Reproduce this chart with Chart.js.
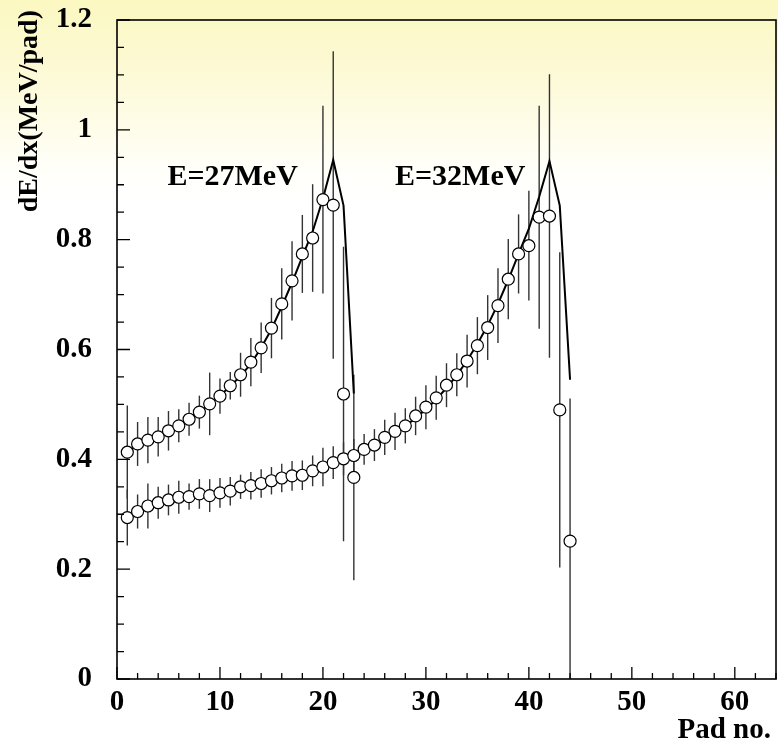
<!DOCTYPE html>
<html>
<head>
<meta charset="utf-8">
<script src="https://cdn.jsdelivr.net/npm/chart.js@4.4.0/dist/chart.umd.min.js"></script>
<style>
  html, body { margin: 0; padding: 0; }
  body {
    width: 778px; height: 746px; overflow: hidden;
    background: linear-gradient(to bottom, #fbf8c2 0px, #fcf9d2 60px, #fefce6 120px, #fffffa 170px, #ffffff 200px);
  }
  #wrap { width: 778px; height: 746px; }
</style>
</head>
<body>
<div id="wrap"><canvas id="chart" width="778" height="746"></canvas></div>
<script>
// pad numbers
const pads27 = [1,2,3,4,5,6,7,8,9,10,11,12,13,14,15,16,17,18,19,20,21,22,23];
const pads32 = [1,2,3,4,5,6,7,8,9,10,11,12,13,14,15,16,17,18,19,20,21,22,
                23,24,25,26,27,28,29,30,31,32,33,34,35,36,37,38,39,40,41,42,43,44];

// measured dE/dx (MeV/pad) and errors, E=27MeV
const dedx27 = [0.413,0.428,0.435,0.441,0.452,0.461,0.473,0.486,0.501,0.515,0.534,0.554,
                0.577,0.603,0.639,0.683,0.725,0.774,0.803,0.873,0.863,0.519,0.367];
const err27  = [0.085,0.040,0.042,0.036,0.036,0.030,0.030,0.030,0.057,0.032,0.025,0.040,
                0.044,0.046,0.055,0.065,0.072,0.071,0.098,0.171,0.280,0.268,0.187];
// calculated curve, E=27MeV
const fit27  = [0.415,0.424,0.433,0.442,0.452,0.462,0.474,0.487,0.500,0.516,0.533,0.552,
                0.574,0.603,0.637,0.678,0.722,0.769,0.815,0.875,0.945,0.862,0.520];

// measured dE/dx and errors, E=32MeV
const dedx32 = [0.294,0.305,0.315,0.321,0.326,0.331,0.332,0.337,0.334,0.339,0.342,0.350,
                0.352,0.356,0.361,0.366,0.370,0.371,0.379,0.386,0.394,0.401,0.407,0.418,
                0.426,0.440,0.451,0.461,0.479,0.495,0.512,0.535,0.554,0.579,0.607,0.640,
                0.680,0.728,0.774,0.789,0.841,0.843,0.490,0.251];
const err32  = [0.051,0.031,0.041,0.029,0.028,0.030,0.024,0.027,0.030,0.027,0.026,0.022,
                0.025,0.026,0.025,0.026,0.027,0.027,0.028,0.035,0.030,0.030,0.030,0.028,
                0.029,0.032,0.034,0.032,0.035,0.040,0.040,0.040,0.039,0.048,0.052,0.059,
                0.068,0.073,0.072,0.100,0.203,0.258,0.287,0.260];
// calculated curve, E=32MeV
const fit32  = [0.298,0.306,0.312,0.317,0.321,0.325,0.329,0.332,0.335,0.339,0.343,0.347,
                0.351,0.355,0.360,0.365,0.370,0.375,0.381,0.387,0.393,0.400,0.408,0.416,
                0.425,0.436,0.448,0.461,0.475,0.491,0.509,0.530,0.553,0.580,0.610,0.644,
                0.683,0.727,0.774,0.820,0.878,0.943,0.862,0.545];

// axes
const xTicks = [0,10,20,30,40,50,60];
const xTickLabels = ['0','10','20','30','40','50','60'];
const yTicks = [0,0.2,0.4,0.6,0.8,1.0,1.2];
const yTickLabels = ['0','0.2','0.4','0.6','0.8','1','1.2'];

const serif = '"Liberation Serif", "Times New Roman", Times, serif';

function toPoints(xs, ys) {
    return xs.map((x, i) => ({ x: x, y: ys[i] }));
}

// keep the plot box where the layout padding puts it
function noLabelPadding(scale) {
    scale.paddingLeft = 0;
    scale.paddingRight = 0;
    scale.paddingTop = 0;
    scale.paddingBottom = 0;
}

// vertical error bars under the markers
const errorBars = {
    id: 'errorBars',
    beforeDatasetsDraw(chart) {
        const { ctx, chartArea: a, scales: { x, y } } = chart;
        ctx.save();
        ctx.beginPath();
        ctx.rect(a.left, a.top, a.right - a.left, a.bottom - a.top);
        ctx.clip();
        ctx.strokeStyle = '#333333';
        ctx.lineWidth = 1.4;
        [[pads27, dedx27, err27], [pads32, dedx32, err32]].forEach(([pads, vals, errs]) => {
            pads.forEach((p, i) => {
                const px = x.getPixelForValue(p);
                ctx.beginPath();
                ctx.moveTo(px, y.getPixelForValue(vals[i] + errs[i]));
                ctx.lineTo(px, y.getPixelForValue(vals[i] - errs[i]));
                ctx.stroke();
            });
        });
        ctx.restore();
    }
};

// box frame, inward ticks, titles and energy labels
const frameAndText = {
    id: 'frameAndText',
    afterDraw(chart) {
        const { ctx, chartArea: a, scales: { x, y } } = chart;
        ctx.save();
        ctx.strokeStyle = '#000';
        ctx.lineWidth = 1.6;
        ctx.strokeRect(a.left, a.top, a.right - a.left, a.bottom - a.top);

        ctx.lineWidth = 1.3;
        ctx.beginPath();
        for (let v = 0; v <= 64; v += 2) {
            const px = x.getPixelForValue(v);
            const len = v % 10 === 0 ? 12 : 6;
            ctx.moveTo(px, a.bottom);
            ctx.lineTo(px, a.bottom - len);
        }
        for (let k = 0; k <= 24; k++) {
            const py = y.getPixelForValue(k * 0.05);
            const len = k % 4 === 0 ? 13 : 7;
            ctx.moveTo(a.left, py);
            ctx.lineTo(a.left + len, py);
        }
        ctx.stroke();

        ctx.fillStyle = '#000';
        ctx.font = 'bold 30px ' + serif;
        ctx.textBaseline = 'alphabetic';
        ctx.textAlign = 'left';
        ctx.fillText('E=27MeV', x.getPixelForValue(4.9), y.getPixelForValue(0.90));
        ctx.fillText('E=32MeV', x.getPixelForValue(27.0), y.getPixelForValue(0.90));

        ctx.font = 'bold 29px ' + serif;
        ctx.textAlign = 'right';
        ctx.fillText('Pad no.', 771, 738);

        ctx.font = 'bold 28px ' + serif;
        ctx.translate(30, 10);
        ctx.rotate(-Math.PI / 2);
        ctx.textAlign = 'right';
        ctx.textBaseline = 'middle';
        ctx.fillText('dE/dx(MeV/pad)', 0, 0);
        ctx.restore();
    }
};

const ctx = document.getElementById('chart');

new Chart(ctx, {
    type: 'scatter',
    data: {
        datasets: [
            {
                label: 'E=27MeV data',
                data: toPoints(pads27, dedx27),
                pointStyle: 'circle',
                pointRadius: 6,
                pointBorderWidth: 1.2,
                pointBackgroundColor: '#ffffff',
                pointBorderColor: '#000000',
                showLine: false
            },
            {
                label: 'E=32MeV data',
                data: toPoints(pads32, dedx32),
                pointStyle: 'circle',
                pointRadius: 6,
                pointBorderWidth: 1.2,
                pointBackgroundColor: '#ffffff',
                pointBorderColor: '#000000',
                showLine: false
            },
            {
                type: 'line',
                label: 'E=27MeV calc',
                data: toPoints(pads27, fit27),
                borderColor: '#000000',
                borderWidth: 2,
                pointRadius: 0,
                tension: 0,
                fill: false
            },
            {
                type: 'line',
                label: 'E=32MeV calc',
                data: toPoints(pads32, fit32),
                borderColor: '#000000',
                borderWidth: 2,
                pointRadius: 0,
                tension: 0,
                fill: false
            }
        ]
    },
    options: {
        responsive: false,
        animation: false,
        devicePixelRatio: 1,
        layout: { autoPadding: false, padding: { top: 20, right: 2, left: 0, bottom: 0 } },
        plugins: {
            legend: { display: false },
            tooltip: { enabled: false }
        },
        scales: {
            x: {
                type: 'linear',
                min: 0,
                max: 64,
                grid: { display: false },
                border: { display: false },
                afterFit(scale) {
                    scale.height = 67;
                    noLabelPadding(scale);
                },
                afterBuildTicks(scale) { scale.ticks = xTicks.map(v => ({ value: v })); },
                ticks: {
                    autoSkip: false,
                    maxRotation: 0,
                    padding: 1,
                    color: '#000',
                    font: { family: serif, weight: 'bold', size: 29, lineHeight: 1 },
                    callback: (v, i) => xTickLabels[i]
                }
            },
            y: {
                type: 'linear',
                min: 0,
                max: 1.2,
                grid: { display: false },
                border: { display: false },
                afterFit(scale) {
                    scale.width = 117;
                    noLabelPadding(scale);
                },
                afterBuildTicks(scale) { scale.ticks = yTicks.map(v => ({ value: v })); },
                ticks: {
                    autoSkip: false,
                    padding: 17,
                    color: '#000',
                    font: { family: serif, weight: 'bold', size: 29, lineHeight: 1 },
                    callback: (v, i) => yTickLabels[i]
                }
            }
        }
    },
    plugins: [errorBars, frameAndText]
});
</script>
</body>
</html>
